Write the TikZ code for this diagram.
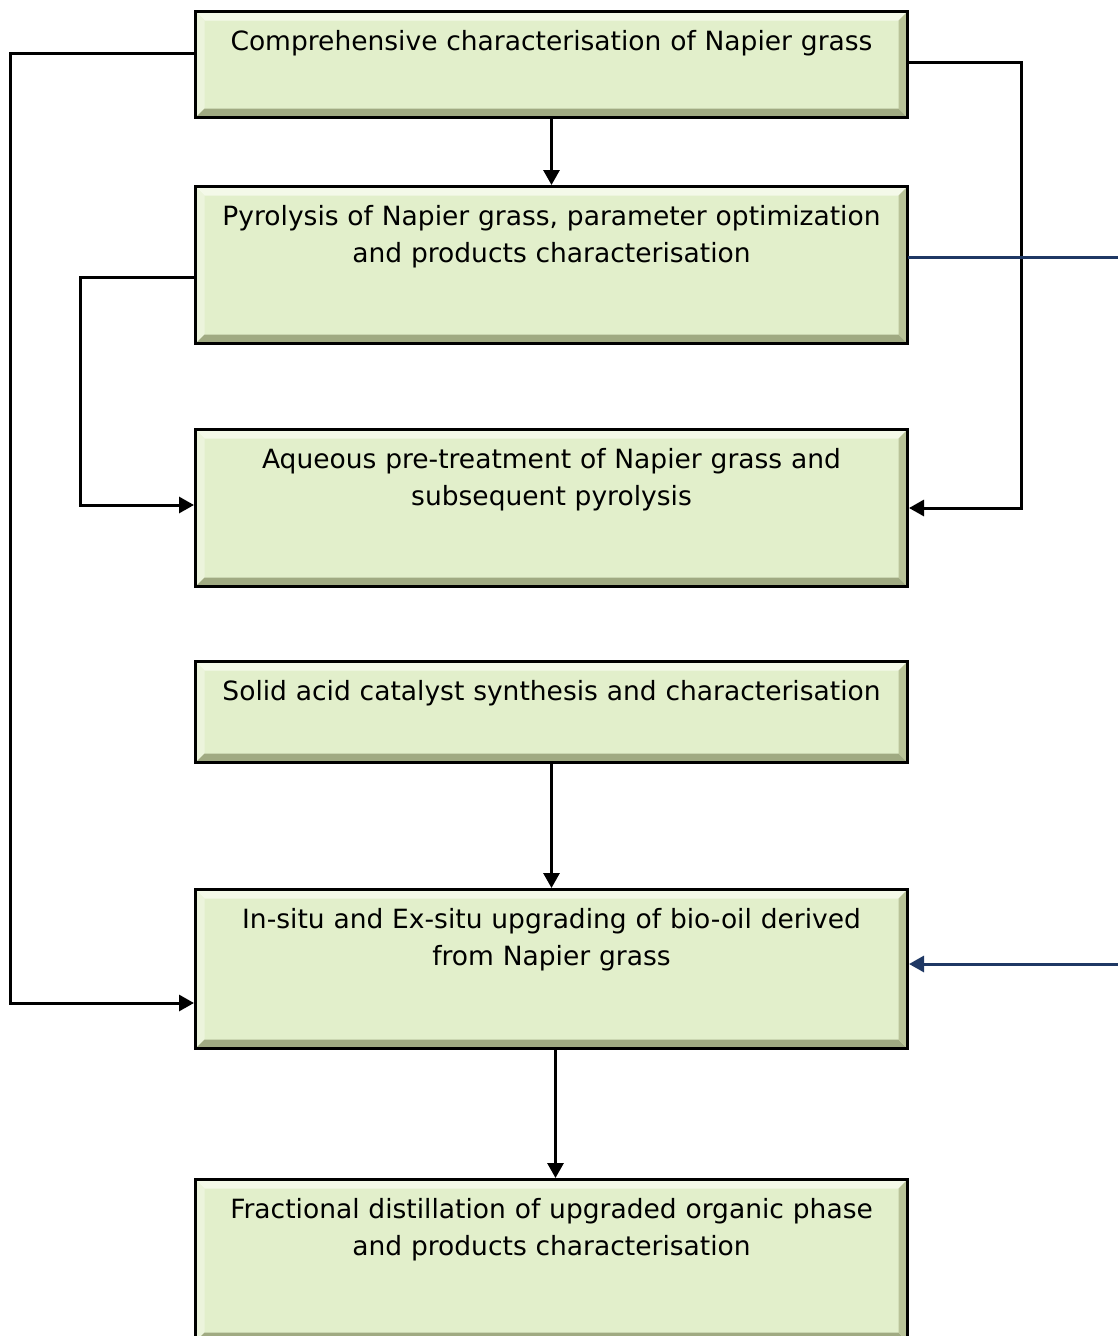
\documentclass[tikz,border=0pt]{standalone}
\usepackage{fontspec}
\setmainfont{DejaVu Sans}
\usetikzlibrary{arrows.meta,calc}

\begin{document}
\begin{tikzpicture}[x=1pt,y=-1pt,line cap=rect,line join=miter]
  % ----- styles & colors -----
    \definecolor{boxfill}{RGB}{226,239,203}
    \definecolor{bevtop}{RGB}{244,249,233}
    \definecolor{bevleft}{RGB}{236,244,220}
    \definecolor{bevbottom}{RGB}{160,170,130}
    \definecolor{bevright}{RGB}{185,195,152}
    \definecolor{navy}{RGB}{31,56,100}
  \tikzset{
    stage/.style={draw=black,line width=3pt,fill=boxfill,anchor=north west,
      minimum width=712pt,text width=698pt,align=center,inner xsep=7pt,inner ysep=0pt,
      font=\fontsize{26.5}{37}\selectfont,text height=39pt,text depth=#1-39pt,
      path picture={
        \fill[bevtop] (path picture bounding box.north west) -- (path picture bounding box.north east)
          -- ([shift={(-9pt,-9pt)}]path picture bounding box.north east) -- ([shift={(9pt,-9pt)}]path picture bounding box.north west) -- cycle;
        \fill[bevleft] (path picture bounding box.north west) -- (path picture bounding box.south west)
          -- ([shift={(9pt,9pt)}]path picture bounding box.south west) -- ([shift={(9pt,-9pt)}]path picture bounding box.north west) -- cycle;
        \fill[bevbottom] (path picture bounding box.south west) -- (path picture bounding box.south east)
          -- ([shift={(-9pt,9pt)}]path picture bounding box.south east) -- ([shift={(9pt,9pt)}]path picture bounding box.south west) -- cycle;
        \fill[bevright] (path picture bounding box.north east) -- (path picture bounding box.south east)
          -- ([shift={(-9pt,9pt)}]path picture bounding box.south east) -- ([shift={(-9pt,-9pt)}]path picture bounding box.north east) -- cycle;
      }},
    link/.style={draw=black,line width=3pt,-{Triangle[length=15pt,width=16pt]}},
    bluelink/.style={draw=navy,line width=3pt,-{Triangle[length=15pt,width=16pt]}}
  }

  \useasboundingbox (0,0) rectangle (1118,1336);

  % ----- the stages -----
  \node[stage=106pt] (c1) at (194,10) {Comprehensive characterisation of Napier grass};
  \node[stage=157pt] (c2) at (194,185) {Pyrolysis of Napier grass, parameter optimization\\and products characterisation};
  \node[stage=157pt] (c3) at (194,428) {Aqueous pre-treatment of Napier grass and\\subsequent pyrolysis};
  \node[stage=101pt] (c4) at (194,660) {Solid acid catalyst synthesis and characterisation};
  \node[stage=159pt] (c5) at (194,888) {In-situ and Ex-situ upgrading of bio-oil derived\\from Napier grass};
  \node[stage=162pt] (c6) at (194,1178) {Fractional distillation of upgraded organic phase\\and products characterisation};

  % free ends on the right margin
  \coordinate (outR) at (1118,257);
  \coordinate (inR) at (1118,964);

  % ----- straight arrows -----
  \draw[link] (c1.south) -- (c2.north);
  \draw[link] (c4.south) -- (c5.north);
  \draw[link] ([xshift=4pt]c5.south) -- ([xshift=4pt]c6.north);

  % ----- loops round the side -----
  \draw[link] ($(c1.north west)+(0,43)$) -- ++(-184,0) |- ($(c5.north west)+(0,115)$);
  \draw[link] ($(c1.north east)+(0,52)$) -- ++(112,0) |- ($(c3.north east)+(0,80)$);
  \draw[link] ($(c2.north west)+(0,92)$) -- ++(-114,0) |- ($(c3.north west)+(0,77)$);

  % ----- blue lines to the right edge -----
  \draw[draw=navy,line width=3pt] ($(c2.north east)+(0,72)$) -- (outR);
  \draw[bluelink] (inR) -- ($(c5.north east)+(0,76)$);

\end{tikzpicture}
\end{document}
